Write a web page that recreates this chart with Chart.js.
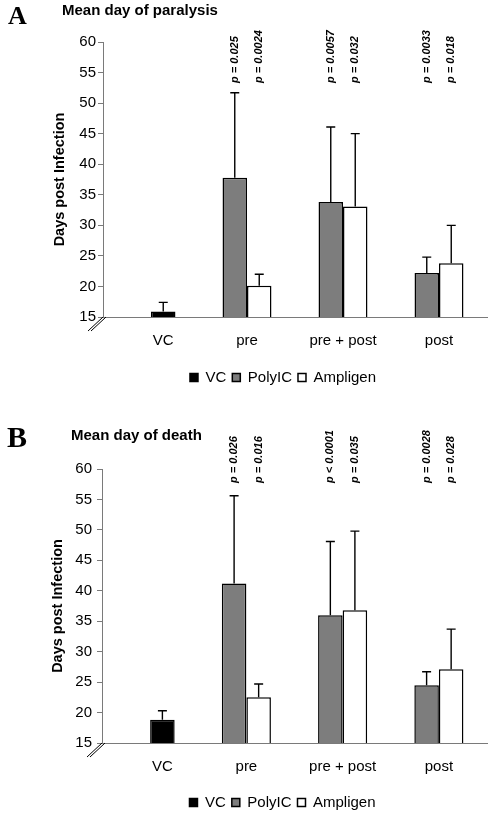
<!DOCTYPE html>
<html>
<head>
<meta charset="utf-8">
<script src="https://cdn.jsdelivr.net/npm/chart.js@4.4.1/dist/chart.umd.min.js"></script>
<style>
  html, body { margin: 0; padding: 0; background: #fff; overflow: hidden; width: 489px; height: 815px; }
  canvas { position: absolute; left: 0; }
  .letter { position: absolute; z-index: 2; font-family: "Liberation Serif", "Times New Roman", serif; font-weight: bold; line-height: 1; }
  .title { position: absolute; z-index: 2; font-family: "Liberation Sans", Arial, sans-serif; font-weight: bold; font-size: 15px; line-height: 1; }
</style>
</head>
<body>
<div class="letter" style="left:8px; top:3px; font-size:26px;">A</div>
<div class="title" style="left:62px; top:2px;">Mean day of paralysis</div>
<canvas id="chartA" width="489" height="400" style="top:0px;"></canvas>

<div class="letter" style="left:7px; top:422px; font-size:30px;">B</div>
<div class="title" style="left:71px; top:427px;">Mean day of death</div>
<canvas id="chartB" width="489" height="420" style="top:400px;"></canvas>

<script>
const categories = ['VC', 'pre', 'pre + post', 'post'];
const seriesNames = ['VC', 'PolyIC', 'Ampligen'];
const yMin = 15;
const yMax = 60;
const yStep = 5;

// A - mean day of paralysis
const paralysisVC = [15.9, null, null, null];
const paralysisPolyIC = [null, 37.8, 33.8, 22.2];
const paralysisAmpligen = [null, 20.1, 33.1, 23.8];
const paralysisVCErr = [1.5, null, null, null];
const paralysisPolyICErr = [null, 13.9, 12.3, 2.6];
const paralysisAmpligenErr = [null, 1.9, 11.9, 6.2];
const paralysisPolyICP = [null, 'p = 0.025', 'p = 0.0057', 'p = 0.0033'];
const paralysisAmpligenP = [null, 'p = 0.0024', 'p = 0.032', 'p = 0.018'];

// B - mean day of death
const deathVC = [18.8, null, null, null];
const deathPolyIC = [null, 41.2, 36.0, 24.5];
const deathAmpligen = [null, 22.5, 36.8, 27.1];
const deathVCErr = [1.5, null, null, null];
const deathPolyICErr = [null, 14.4, 12.1, 2.2];
const deathAmpligenErr = [null, 2.2, 13.0, 6.6];
const deathPolyICP = [null, 'p = 0.026', 'p < 0.0001', 'p = 0.0028'];
const deathAmpligenP = [null, 'p = 0.016', 'p = 0.035', 'p = 0.028'];

Chart.defaults.font.family = '"Liberation Sans", Arial, sans-serif';
Chart.defaults.color = '#000';

const AXIS_GREY = '#7a7a7a';

// error bars (upper only), p-values, category labels and the axis break
const extrasPlugin = {
  id: 'extras',
  afterLayout(chart) {
    const shift = chart.options.plugins.extras.legendShift;
    chart.legend.left += shift;
    chart.legend.right += shift;
  },
  afterDatasetsDraw(chart) {
    const ctx = chart.ctx;
    const y = chart.scales.y;
    const area = chart.chartArea;
    const opts = chart.options.plugins.extras;

    chart.data.datasets.forEach((ds, di) => {
      const meta = chart.getDatasetMeta(di);
      meta.data.forEach((bar, i) => {
        const v = ds.data[i];
        if (v == null) return;
        const err = ds.errors[i];
        if (err != null) {
          const top = y.getPixelForValue(v + err);
          ctx.save();
          ctx.strokeStyle = '#000';
          ctx.lineWidth = 1.4;
          ctx.beginPath();
          ctx.moveTo(bar.x, bar.y);
          ctx.lineTo(bar.x, top);
          ctx.moveTo(bar.x - 4.5, top);
          ctx.lineTo(bar.x + 4.5, top);
          ctx.stroke();
          ctx.restore();
        }
        if (ds.pvals && ds.pvals[i]) {
          ctx.save();
          ctx.translate(bar.x, area.top + opts.pOffset);
          ctx.rotate(-Math.PI / 2);
          ctx.font = 'italic bold 11px "Liberation Sans", Arial, sans-serif';
          ctx.fillStyle = '#000';
          ctx.textAlign = 'left';
          ctx.textBaseline = 'middle';
          ctx.fillText(ds.pvals[i], 0, 0);
          ctx.restore();
        }
      });
    });

    // category labels centred under the bars of each group
    ctx.save();
    ctx.font = '15px "Liberation Sans", Arial, sans-serif';
    ctx.fillStyle = '#000';
    ctx.textAlign = 'center';
    ctx.textBaseline = 'alphabetic';
    chart.data.labels.forEach((label, i) => {
      let lo = Infinity, hi = -Infinity;
      chart.data.datasets.forEach((ds, di) => {
        if (ds.data[i] == null) return;
        const bar = chart.getDatasetMeta(di).data[i];
        lo = Math.min(lo, bar.x - bar.width / 2);
        hi = Math.max(hi, bar.x + bar.width / 2);
      });
      ctx.fillText(label, (lo + hi) / 2, area.bottom + 28);
    });
    ctx.restore();

    // axis break marks
    ctx.save();
    ctx.strokeStyle = '#000';
    ctx.lineWidth = 1;
    ctx.beginPath();
    [0, 3].forEach(dx => {
      ctx.moveTo(area.left - 15 + dx, area.bottom + 14);
      ctx.lineTo(area.left + dx, area.bottom);
    });
    ctx.stroke();
    ctx.restore();
  }
};

function makeChart(canvasId, values, errors, pvals, look) {
  const datasets = [
    { label: seriesNames[0], data: values[0], errors: errors[0], pvals: null,
      backgroundColor: '#000', borderColor: '#000', borderWidth: 1.5, stack: 'right', order: 1 },
    { label: seriesNames[1], data: values[1], errors: errors[1], pvals: pvals[0],
      backgroundColor: '#7d7d7d', borderColor: '#000', borderWidth: 1.5, stack: 'left', order: 0 },
    { label: seriesNames[2], data: values[2], errors: errors[2], pvals: pvals[1],
      backgroundColor: '#fff', borderColor: '#000', borderWidth: 1.5, stack: 'right', order: 2 }
  ];
  datasets.forEach(d => { d.clip = 0; d.barPercentage = 1; d.categoryPercentage = 0.51; });

  return new Chart(document.getElementById(canvasId), {
    type: 'bar',
    data: { labels: categories, datasets: datasets },
    options: {
      responsive: false,
      animation: false,
      layout: { padding: { top: look.top, right: 2, bottom: look.bottom, left: 0 } },
      scales: {
        x: {
          grid: { display: false },
          border: { display: true, color: AXIS_GREY, width: 1 },
          ticks: { display: false },
          afterFit: scale => { scale.height = look.xAxisHeight; }
        },
        y: {
          min: yMin,
          max: yMax,
          ticks: { stepSize: yStep, padding: look.tickPad, color: '#000', font: { size: 15 } },
          grid: { drawOnChartArea: false, drawTicks: true, tickLength: 5, color: AXIS_GREY },
          border: { display: true, color: AXIS_GREY, width: 1 },
          title: {
            display: true,
            text: 'Days post Infection',
            color: '#000',
            font: { size: 14.5, weight: 'bold' },
            padding: { top: look.titlePad, bottom: 0 }
          },
          afterFit: scale => { scale.width = look.axisWidth; }
        }
      },
      plugins: {
        legend: {
          position: 'bottom',
          fullSize: false,
          labels: {
            boxWidth: 8,
            boxHeight: 8,
            padding: 6,
            color: '#000',
            font: { size: 15 },
            sort: (a, b) => a.datasetIndex - b.datasetIndex
          }
        },
        tooltip: { enabled: false },
        extras: { pOffset: look.pOffset, legendShift: look.legendShift }
      }
    },
    plugins: [extrasPlugin]
  });
}

makeChart('chartA',
  [paralysisVC, paralysisPolyIC, paralysisAmpligen],
  [paralysisVCErr, paralysisPolyICErr, paralysisAmpligenErr],
  [paralysisPolyICP, paralysisAmpligenP],
  { top: 42, bottom: 5, xAxisHeight: 47, axisWidth: 103, tickPad: 2, titlePad: 51, pOffset: 41, legendShift: -12 });

makeChart('chartB',
  [deathVC, deathPolyIC, deathAmpligen],
  [deathVCErr, deathPolyICErr, deathAmpligenErr],
  [deathPolyICP, deathAmpligenP],
  { top: 69, bottom: 0, xAxisHeight: 46, axisWidth: 102, tickPad: 5, titlePad: 49, pOffset: 14, legendShift: -12 });
</script>
</body>
</html>
